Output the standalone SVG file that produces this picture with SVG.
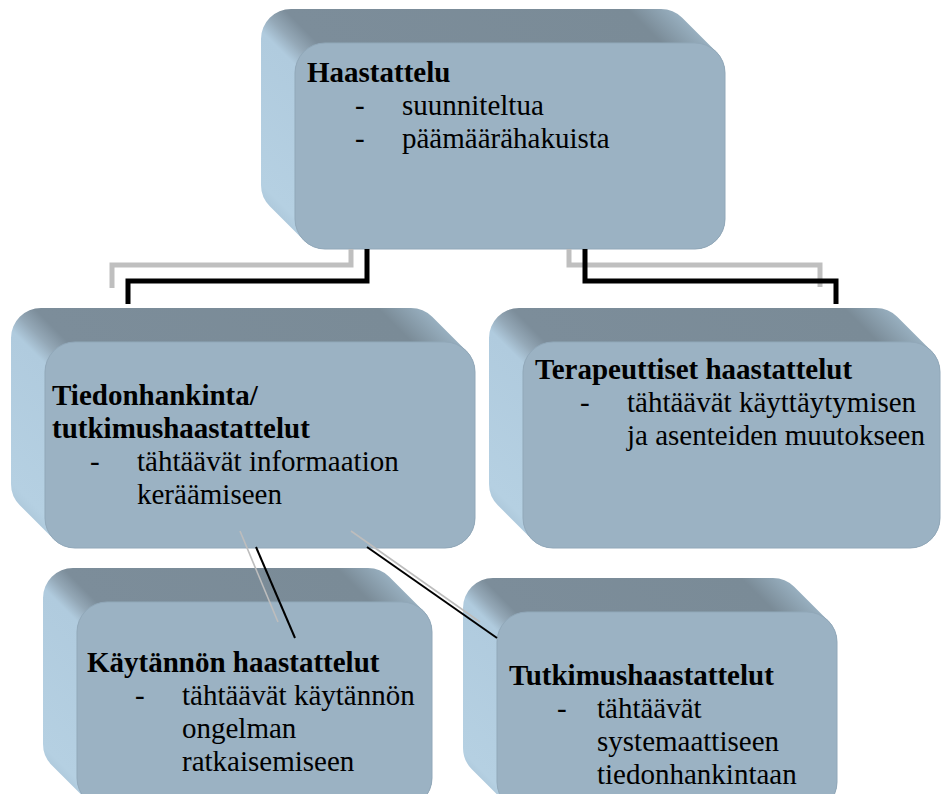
<svg xmlns="http://www.w3.org/2000/svg" width="943" height="794" viewBox="0 0 943 794">
<defs>
<style>
.front{fill:#9BB2C3;stroke:#91A8B9;stroke-width:1}
text{font-family:"Liberation Serif","Times New Roman",serif;font-size:29px;fill:#000}
.t{font-weight:bold}
.gl{fill:none;stroke:#BFBFBF;stroke-width:5}
.bl{fill:none;stroke:#000;stroke-width:5}
.gd{fill:none;stroke:#BDBDBD;stroke-width:1.6}
.bd{fill:none;stroke:#000;stroke-width:2}
</style>
<linearGradient id="g1" gradientUnits="userSpaceOnUse" x1="-103" y1="103" x2="215" y2="-215">
<stop offset="0" stop-color="#A7C2D5"/><stop offset="0.05" stop-color="#B5D0E2"/><stop offset="0.29" stop-color="#B0CBDE"/><stop offset="0.324" stop-color="#94A8B7"/><stop offset="0.36" stop-color="#7C8D9A"/><stop offset="0.9" stop-color="#7A8B97"/><stop offset="1" stop-color="#A3BDCF"/>
</linearGradient>
<linearGradient id="g3" gradientUnits="userSpaceOnUse" x1="-103" y1="103" x2="208.5" y2="-208.5">
<stop offset="0" stop-color="#A7C2D5"/><stop offset="0.05" stop-color="#B5D0E2"/><stop offset="0.297" stop-color="#B0CBDE"/><stop offset="0.331" stop-color="#94A8B7"/><stop offset="0.367" stop-color="#7C8D9A"/><stop offset="0.9" stop-color="#7A8B97"/><stop offset="1" stop-color="#A3BDCF"/>
</linearGradient>
<linearGradient id="g4" gradientUnits="userSpaceOnUse" x1="-103" y1="103" x2="177.5" y2="-177.5">
<stop offset="0" stop-color="#A7C2D5"/><stop offset="0.05" stop-color="#B5D0E2"/><stop offset="0.333" stop-color="#B0CBDE"/><stop offset="0.367" stop-color="#94A8B7"/><stop offset="0.403" stop-color="#7C8D9A"/><stop offset="0.89" stop-color="#7A8B97"/><stop offset="1" stop-color="#A3BDCF"/>
</linearGradient>
<linearGradient id="g5" gradientUnits="userSpaceOnUse" x1="-100" y1="100" x2="170" y2="-170">
<stop offset="0" stop-color="#A7C2D5"/><stop offset="0.05" stop-color="#B5D0E2"/><stop offset="0.336" stop-color="#B0CBDE"/><stop offset="0.370" stop-color="#94A8B7"/><stop offset="0.406" stop-color="#7C8D9A"/><stop offset="0.885" stop-color="#7A8B97"/><stop offset="1" stop-color="#A3BDCF"/>
</linearGradient>
</defs>
<rect width="943" height="794" fill="#FFFFFF"/>

<g id="node-haastattelu" transform="translate(295,43)">
<path fill="url(#g1)" d="M -4,-34 H 366 A30 30 0 0 1 387.2,-25.2 L 421.2,8.8 A30 30 0 0 1 430,30 V 176 A30 30 0 0 1 400,206 H 30 A30 30 0 0 1 8.8,197.2 L -25.2,163.2 A30 30 0 0 1 -34,142 V -4 A30 30 0 0 1 -4,-34 Z"/>
<rect class="front" x="0" y="0" width="430" height="206" rx="30"/>
<text class="t" x="12" y="39">Haastattelu</text>
<text x="60" y="72">-</text><text x="107" y="72">suunniteltua</text>
<text x="60" y="105">-</text><text x="107" y="105">päämäärähakuista</text>
</g>

<g id="node-tiedonhankinta" transform="translate(45,342)">
<path fill="url(#g1)" d="M -4,-34 H 366 A30 30 0 0 1 387.2,-25.2 L 421.2,8.8 A30 30 0 0 1 430,30 V 176 A30 30 0 0 1 400,206 H 30 A30 30 0 0 1 8.8,197.2 L -25.2,163.2 A30 30 0 0 1 -34,142 V -4 A30 30 0 0 1 -4,-34 Z"/>
<rect class="front" x="0" y="0" width="430" height="206" rx="30"/>
<text class="t" x="7" y="63">Tiedonhankinta/</text>
<text class="t" x="7" y="96">tutkimushaastattelut</text>
<text x="45" y="129">-</text><text x="92" y="129">tähtäävät informaation</text>
<text x="92" y="162">keräämiseen</text>
</g>

<g id="node-terapeuttiset" transform="translate(523,342)">
<path fill="url(#g3)" d="M -4,-34 H 353 A30 30 0 0 1 374.2,-25.2 L 408.2,8.8 A30 30 0 0 1 417,30 V 176 A30 30 0 0 1 387,206 H 30 A30 30 0 0 1 8.8,197.2 L -25.2,163.2 A30 30 0 0 1 -34,142 V -4 A30 30 0 0 1 -4,-34 Z"/>
<rect class="front" x="0" y="0" width="417" height="206" rx="30"/>
<text class="t" x="12" y="37">Terapeuttiset haastattelut</text>
<text x="57" y="70">-</text><text x="104" y="70">tähtäävät käyttäytymisen</text>
<text x="104" y="103">ja asenteiden muutokseen</text>
</g>

<g id="node-kaytannon" transform="translate(77,602)">
<path fill="url(#g4)" d="M -4,-34 H 291 A30 30 0 0 1 312.2,-25.2 L 346.2,8.8 A30 30 0 0 1 355,30 V 176 A30 30 0 0 1 325,206 H 30 A30 30 0 0 1 8.8,197.2 L -25.2,163.2 A30 30 0 0 1 -34,142 V -4 A30 30 0 0 1 -4,-34 Z"/>
<rect class="front" x="0" y="0" width="355" height="206" rx="30"/>
<text class="t" x="10" y="70">Käytännön haastattelut</text>
<text x="58" y="103">-</text><text x="105" y="103">tähtäävät käytännön</text>
<text x="105" y="136">ongelman</text>
<text x="105" y="169">ratkaisemiseen</text>
</g>

<g id="node-tutkimus" transform="translate(497,612)">
<path fill="url(#g5)" d="M -4,-34 H 276 A30 30 0 0 1 297.2,-25.2 L 331.2,8.8 A30 30 0 0 1 340,30 V 170 A30 30 0 0 1 310,200 H 30 A30 30 0 0 1 8.8,191.2 L -25.2,157.2 A30 30 0 0 1 -34,136 V -4 A30 30 0 0 1 -4,-34 Z"/>
<rect class="front" x="0" y="0" width="340" height="200" rx="30"/>
<text class="t" x="12" y="73">Tutkimushaastattelut</text>
<text x="60" y="106">-</text><text x="100" y="106">tähtäävät</text>
<text x="100" y="139">systemaattiseen</text>
<text x="100" y="172">tiedonhankintaan</text>
</g>

<g id="connectors">
<polyline class="gl" points="351,249 351,265 112,265 112,288"/>
<polyline class="bl" points="367,249 367,281 128,281 128,304"/>
<polyline class="gl" points="569,249 569,265 820,265 820,287"/>
<polyline class="bl" points="585,249 585,281 836,281 836,304"/>
<line class="gd" x1="240" y1="531" x2="278" y2="622"/>
<line class="bd" x1="256" y1="547" x2="295" y2="638"/>
<line class="gd" x1="351" y1="531" x2="480" y2="622"/>
<line class="bd" x1="367" y1="547" x2="497" y2="638"/>
</g>
</svg>
